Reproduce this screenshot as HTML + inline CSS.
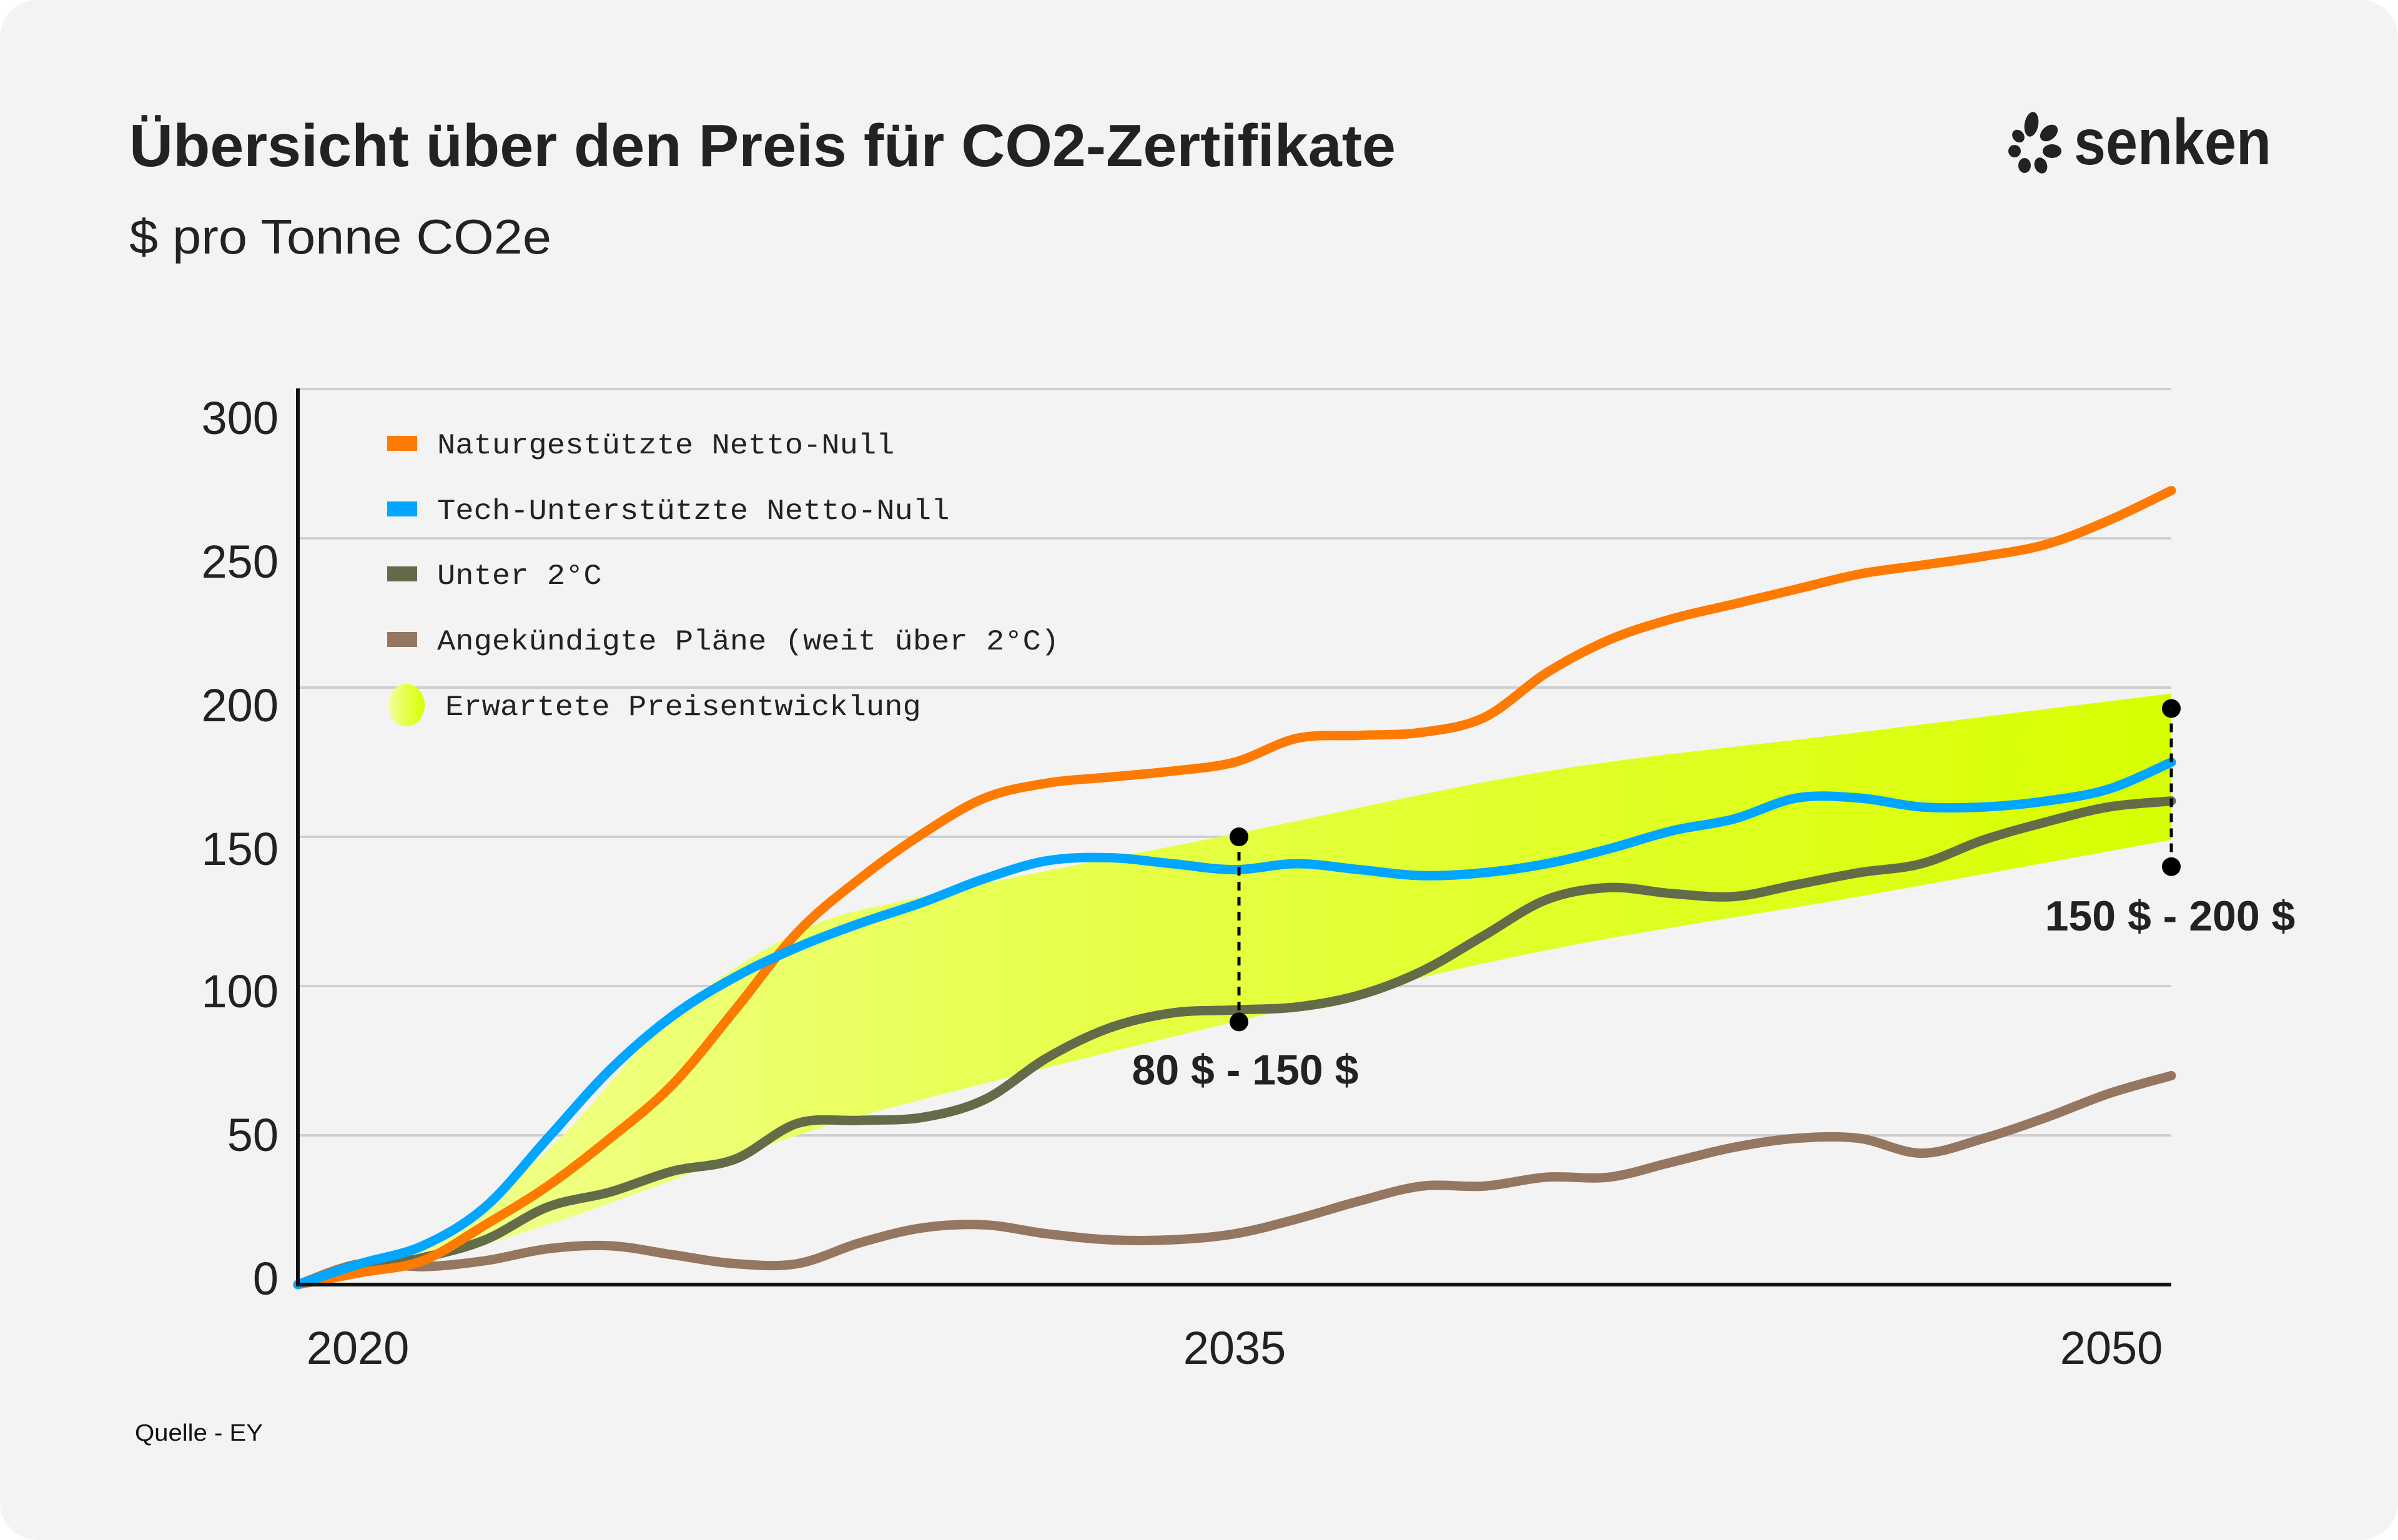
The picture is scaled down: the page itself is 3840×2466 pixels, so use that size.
<!DOCTYPE html>
<html><head><meta charset="utf-8">
<style>
html,body{margin:0;padding:0;background:#ffffff;}
svg{display:block;}
</style></head>
<body>
<svg id="chart" width="3840" height="2466" viewBox="0 0 3840 2466" xmlns="http://www.w3.org/2000/svg">
<defs>
<linearGradient id="bandGrad" x1="0" y1="0" x2="1" y2="0">
<stop offset="0" stop-color="#f3ff9a"/>
<stop offset="0.45" stop-color="#e6ff45"/>
<stop offset="1" stop-color="#d8ff00"/>
</linearGradient>
<linearGradient id="legGrad" x1="0" y1="0" x2="1" y2="0">
<stop offset="0" stop-color="#f3ff9a"/>
<stop offset="1" stop-color="#d8ff00"/>
</linearGradient>
</defs>
<rect x="0" y="0" width="3840" height="2466" rx="60" fill="#f3f3f3"/>
<text x="207" y="266" font-family="Liberation Sans, sans-serif" font-weight="bold" font-size="96" fill="#222" textLength="2028" lengthAdjust="spacingAndGlyphs">Übersicht über den Preis für CO2-Zertifikate</text>
<text x="207" y="406" font-family="Liberation Sans, sans-serif" font-size="78" fill="#222" textLength="676" lengthAdjust="spacingAndGlyphs">$ pro Tonne CO2e</text>
<g fill="#222">
<ellipse cx="3253" cy="199" rx="11" ry="20" transform="rotate(10 3253 199)"/>
<ellipse cx="3281" cy="213" rx="11" ry="16" transform="rotate(50 3281 213)"/>
<ellipse cx="3232" cy="218" rx="9" ry="11" transform="rotate(-40 3232 218)"/>
<ellipse cx="3226" cy="242" rx="10" ry="10"/>
<ellipse cx="3286" cy="242" rx="15" ry="11"/>
<ellipse cx="3242" cy="265" rx="10" ry="12"/>
<ellipse cx="3268" cy="265" rx="10" ry="13" transform="rotate(-20 3268 265)"/>
<text x="3321" y="263" font-family="Liberation Sans, sans-serif" font-weight="bold" font-size="104" textLength="316" lengthAdjust="spacingAndGlyphs">senken</text>
</g>
<g id="grid"></g>
<g id="band"></g>
<g id="lines"></g>
<g id="axes"></g>
<g id="legend"></g>
<g id="annot"></g>
<text x="216" y="2307" font-family="Liberation Sans, sans-serif" font-size="38" fill="#111" textLength="205" lengthAdjust="spacingAndGlyphs">Quelle - EY</text>
</svg>
<script>
const years = [2020,2021,2022,2023,2024,2025,2026,2027,2028,2029,2030,2031,2032,2033,2034,2035,2036,2037,2038,2039,2040,2041,2042,2043,2044,2045,2046,2047,2048,2049,2050];
const natureValues = [0,4,8,20,33,49,67,92,118,136,151,163,168,170,172,175,183,184,185,190,205,216,223,228,233,238,241,244,248,256,266];
const techValues = [0,7,13,26,49,72,90,103,113,121,128,136,142,143,141,139,141,139,137,138,141,146,152,156,163,163,160,160,162,166,175];
const under2Values = [0,5,9,15,26,31,38,42,54,55,56,62,76,86,91,92,93,97,105,117,129,133,131,130,134,138,141,149,155,160,162];
const plansValues = [0,7,6,8,12,13,10,7,7,14,19,20,17,15,15,17,22,28,33,33,36,36,41,46,49,49,44,49,56,64,70];
const bandYears = [2020,2022,2024,2026,2028,2030,2035,2040,2045,2050];
const bandUpper = [0,14,45,90,118,130,151,172,185,198];
const bandLower = [0,8,20,35,50,62,88,112,130,149];
const yTicks = [0,50,100,150,200,250,300];
const yTickLabels = ["0","50","100","150","200","250","300"];
const xTicks = [2020,2035,2050];
const xTickLabels = ["2020","2035","2050"];
const seriesNames = ["Naturgestützte Netto-Null","Tech-Unterstützte Netto-Null","Unter 2°C","Angekündigte Pläne (weit über 2°C)","Erwartete Preisentwicklung"];
const rangeYears = [2035,2050];
const rangeLow = [88,140];
const rangeHigh = [150,193];
const rangeLabels = ["80 $ - 150 $","150 $ - 200 $"];

const NS="http://www.w3.org/2000/svg";
const X0=477, X1=3477, Y0=2057, YPER=4.78;
function xs(v){return X0+(v-2020)*(X1-X0)/30;}
function ys(v){return Y0-v*YPER;}
function mk(tag,attrs,parent){const e=document.createElementNS(NS,tag);for(const k in attrs)e.setAttribute(k,attrs[k]);parent.appendChild(e);return e;}
function smooth(pts){
  let d="M"+pts[0][0]+","+pts[0][1];
  for(let i=0;i<pts.length-1;i++){
    const p0=pts[Math.max(0,i-1)],p1=pts[i],p2=pts[i+1],p3=pts[Math.min(pts.length-1,i+2)];
    const c1=[p1[0]+(p2[0]-p0[0])/6,p1[1]+(p2[1]-p0[1])/6];
    const c2=[p2[0]-(p3[0]-p1[0])/6,p2[1]-(p3[1]-p1[1])/6];
    d+=" C"+c1[0]+","+c1[1]+" "+c2[0]+","+c2[1]+" "+p2[0]+","+p2[1];
  }
  return d;
}
const grid=document.getElementById('grid');
yTicks.forEach((t,i)=>{
  if(t>0){const g=mk('line',{x1:X0,x2:X1,y1:ys(t),y2:ys(t),stroke:'#cfcfcf','stroke-width':4},grid);
  
  }
  const lb=mk('text',{x:446,y:ys(t)+26-(t===0?10:t*0.0),'text-anchor':'end','font-family':'Liberation Sans, sans-serif','font-size':74,fill:'#222'},grid);
  lb.setAttribute('y',[2073,1843,1613,1385,1155,925,695][i]);
  lb.textContent=yTickLabels[i];
  
  
});
xTicks.forEach((t,i)=>{
  const lb=mk('text',{x:[573,1977,3381][i],y:2184,'text-anchor':'middle','font-family':'Liberation Sans, sans-serif','font-size':74,fill:'#222'},grid);
  lb.textContent=xTickLabels[i];
  
  
});
const band=document.getElementById('band');
const up=bandYears.map((y,i)=>[xs(y),ys(bandUpper[i])]);
const lo=bandYears.map((y,i)=>[xs(y),ys(bandLower[i])]).reverse();
let bd=smooth(up)+" L"+lo[0][0]+","+lo[0][1]+smooth(lo).slice(smooth(lo).indexOf(" C"))+" Z";
const bp=mk('path',{d:bd,fill:'url(#bandGrad)'},band);



const lines=document.getElementById('lines');
const seriesDefs=[[plansValues,'#957660','plans-line'],[under2Values,'#636b48','under-2c-line'],[natureValues,'#ff7a00','nature-net-zero-line'],[techValues,'#00a6ff','tech-net-zero-line']];
seriesDefs.forEach(s=>{
  const pts=years.map((y,i)=>[xs(y),ys(s[0][i])]);
  const p=mk('path',{d:smooth(pts),fill:'none',stroke:s[1],'stroke-width':15,'stroke-linecap':'round','stroke-linejoin':'round'},lines);
  
  
});
const axes=document.getElementById('axes');
const ya=mk('line',{x1:X0,x2:X0,y1:622,y2:Y0+3,stroke:'#111','stroke-width':6},axes);


const xa=mk('line',{x1:X0-3,x2:X1,y1:Y0,y2:Y0,stroke:'#111','stroke-width':6},axes);



const legend=document.getElementById('legend');
const legColors=['#ff7a00','#00a6ff','#636b48','#957660'];
const legY=[710,815,919,1024,1129];
seriesNames.forEach((n,i)=>{
  const g=mk('g',{},legend);
  
  
  if(i<4){mk('rect',{x:620,y:legY[i]-12,width:48,height:24,fill:legColors[i]},g);}
  else{mk('ellipse',{cx:651,cy:legY[i],rx:29,ry:34,fill:'url(#legGrad)'},g);}
  const t=mk('text',{x:i<4?700:713,y:legY[i]+16,'font-family':'Liberation Mono, monospace','font-size':46,fill:'#222',textLength:n.length*29.3,lengthAdjust:'spacingAndGlyphs'},g);
  t.textContent=n;
});
const annot=document.getElementById('annot');
rangeYears.forEach((y,i)=>{
  const g=mk('g',{},annot);
  
  
  const x=xs(y)+(i===0?7:0);
  mk('line',{x1:x,x2:x,y1:ys(rangeHigh[i]),y2:ys(rangeLow[i]),stroke:'#000','stroke-width':5,'stroke-dasharray':'14 10'},g);
  mk('circle',{cx:x,cy:ys(rangeHigh[i]),r:15,fill:'#000'},g);
  mk('circle',{cx:x,cy:ys(rangeLow[i]),r:15,fill:'#000'},g);
  const t=mk('text',{x:x+(i===0?10:-2),y:ys(rangeLow[i])+[100,102][i],'text-anchor':'middle','font-family':'Liberation Sans, sans-serif','font-weight':'bold','font-size':68,fill:'#222'},g);
  t.textContent=rangeLabels[i];
});
</script>
</body></html>
